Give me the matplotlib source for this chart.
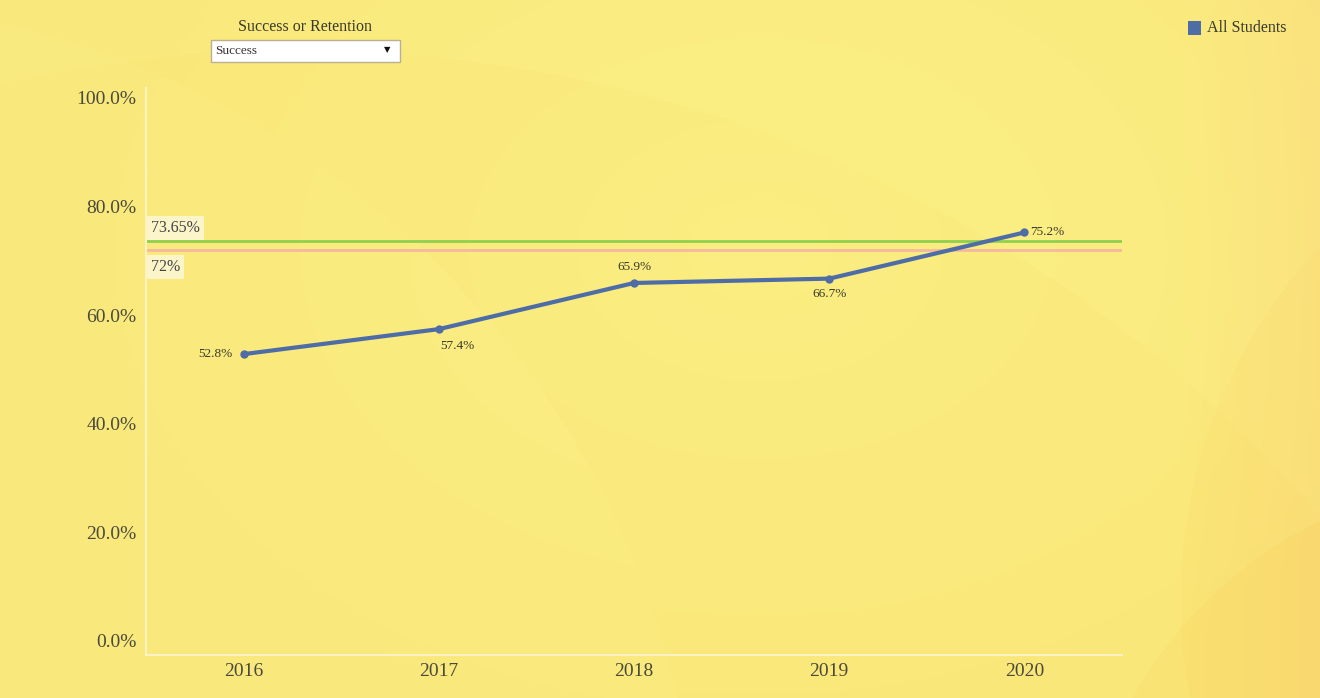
import numpy as np
import matplotlib
matplotlib.use("Agg")
import matplotlib.pyplot as plt
from matplotlib.patches import Rectangle

years = ["2016", "2017", "2018", "2019", "2020"]
success = [52.8, 57.4, 65.9, 66.7, 75.2]
labels = ["52.8%", "57.4%", "65.9%", "66.7%", "75.2%"]
ref_green = 73.65
ref_pink = 72.0
ref_green_label = "73.65%"
ref_pink_label = "72%"
yticks = [0, 20, 40, 60, 80, 100]

plt.rcParams['font.family'] = ['Liberation Serif', 'DejaVu Serif']

W, H = 1320, 698
fig = plt.figure(figsize=(W / 100, H / 100), dpi=100)

# background
bg = fig.add_axes([0, 0, 1, 1])
bg.set_axis_off()
yy, xx = np.mgrid[0:H, 0:W]
base = np.array([0.98, 0.915, 0.49])
img = np.ones((H, W, 3)) * base
d = np.sqrt(((xx - 760) / 700.0) ** 2 + ((yy - 250) / 500.0) ** 2)
img += (np.clip(1 - d, 0, 1)[..., None]) * np.array([0.005, 0.025, 0.03])
for cx, cy, r, amt in [(300, 1400, 1350, -0.008), (1500, 900, 420, -0.015), (1700, 600, 520, -0.012), (-200, 900, 900, 0.006)]:
    rr = np.sqrt((xx - cx) ** 2 + (yy - cy) ** 2)
    img += ((rr < r)[..., None]) * np.array([0.0, amt, amt * 1.5])
edge = np.clip((xx - 1180) / 140.0, 0, 1)
img += edge[..., None] * np.array([0.0, -0.03, 0.0])
img = np.clip(img, 0, 1)
bg.imshow(img, extent=[0, 1, 0, 1], aspect='auto', transform=bg.transAxes, zorder=0)

# main axes (pixel layout)
left, right, top, bottom = 146, 1122, 88, 655
ax = fig.add_axes([left / W, 1 - bottom / H, (right - left) / W, (bottom - top) / H])
ax.set_facecolor('none')
x = np.arange(len(years))
ax.set_xlim(-0.5, 4.5)
ax.set_ylim(-2.6, 101.8)
for s in ['top', 'right']:
    ax.spines[s].set_visible(False)
for s in ['left', 'bottom']:
    ax.spines[s].set_color('#fbf3c4')
    ax.spines[s].set_linewidth(1.5)
ax.set_xticks(x)
ax.set_xticklabels(years)
ax.set_yticks(yticks)
ax.set_yticklabels([f"{v:.1f}%" for v in yticks])
ax.tick_params(length=0, labelsize=14, colors='#4a4a3a')
ax.tick_params(axis='x', pad=6)
ax.tick_params(axis='y', pad=7)

# reference lines
ax.axhline(ref_green, color='#8fd14f', lw=2, zorder=2)
ax.axhline(ref_pink, color='#f5b8a0', lw=2, zorder=2)
ax.text(0.005, ref_green + 0.9, ref_green_label, transform=ax.get_yaxis_transform(),
        fontsize=11.5, color='#444', va='bottom', ha='left',
        bbox=dict(boxstyle='square,pad=0.25', fc='#fdf8d8', ec='none', alpha=0.85))
ax.text(0.005, ref_pink - 1.6, ref_pink_label, transform=ax.get_yaxis_transform(),
        fontsize=11.5, color='#444', va='top', ha='left',
        bbox=dict(boxstyle='square,pad=0.25', fc='#fdf8d8', ec='none', alpha=0.85))

# line
ax.plot(x, success, color='#4e6da6', lw=3, marker='o', ms=5, zorder=4)
offsets = [(-8, 0, 'right', 'center'), (1, -8, 'left', 'top'), (0, 7, 'center', 'bottom'),
           (0, -7, 'center', 'top'), (4, 0, 'left', 'center')]
for xi, v, lab, (dx, dy, ha, va) in zip(x, success, labels, offsets):
    ax.annotate(lab, (xi, v), xytext=(dx, dy), textcoords='offset points',
                ha=ha, va=va, fontsize=9.5, color='#3a3a2a')

# dropdown widget
fig.text(305 / W, 1 - 27 / H, "Success or Retention", ha='center', va='center',
         fontsize=11.5, color='#3a3a2a')
fig.patches.append(Rectangle((211 / W, 1 - 62 / H), 189 / W, 22 / H, transform=fig.transFigure,
                             fc='white', ec='#b8b090', lw=1))
fig.text(215 / W, 1 - 51 / H, "Success", ha='left', va='center', fontsize=9.5, color='#333')
fig.text(387 / W, 1 - 50 / H, "▼", ha='center', va='center', fontsize=6, color='#111',
         family=['DejaVu Sans'])

# legend
fig.patches.append(Rectangle((1188 / W, 1 - 35 / H), 13 / W, 14 / H, transform=fig.transFigure,
                             fc='#4e6da6', ec='none'))
fig.text(1207 / W, 1 - 27.5 / H, "All Students", ha='left', va='center', fontsize=11.5, color='#3a3a2a')

fig.savefig("out.png", dpi=100)
